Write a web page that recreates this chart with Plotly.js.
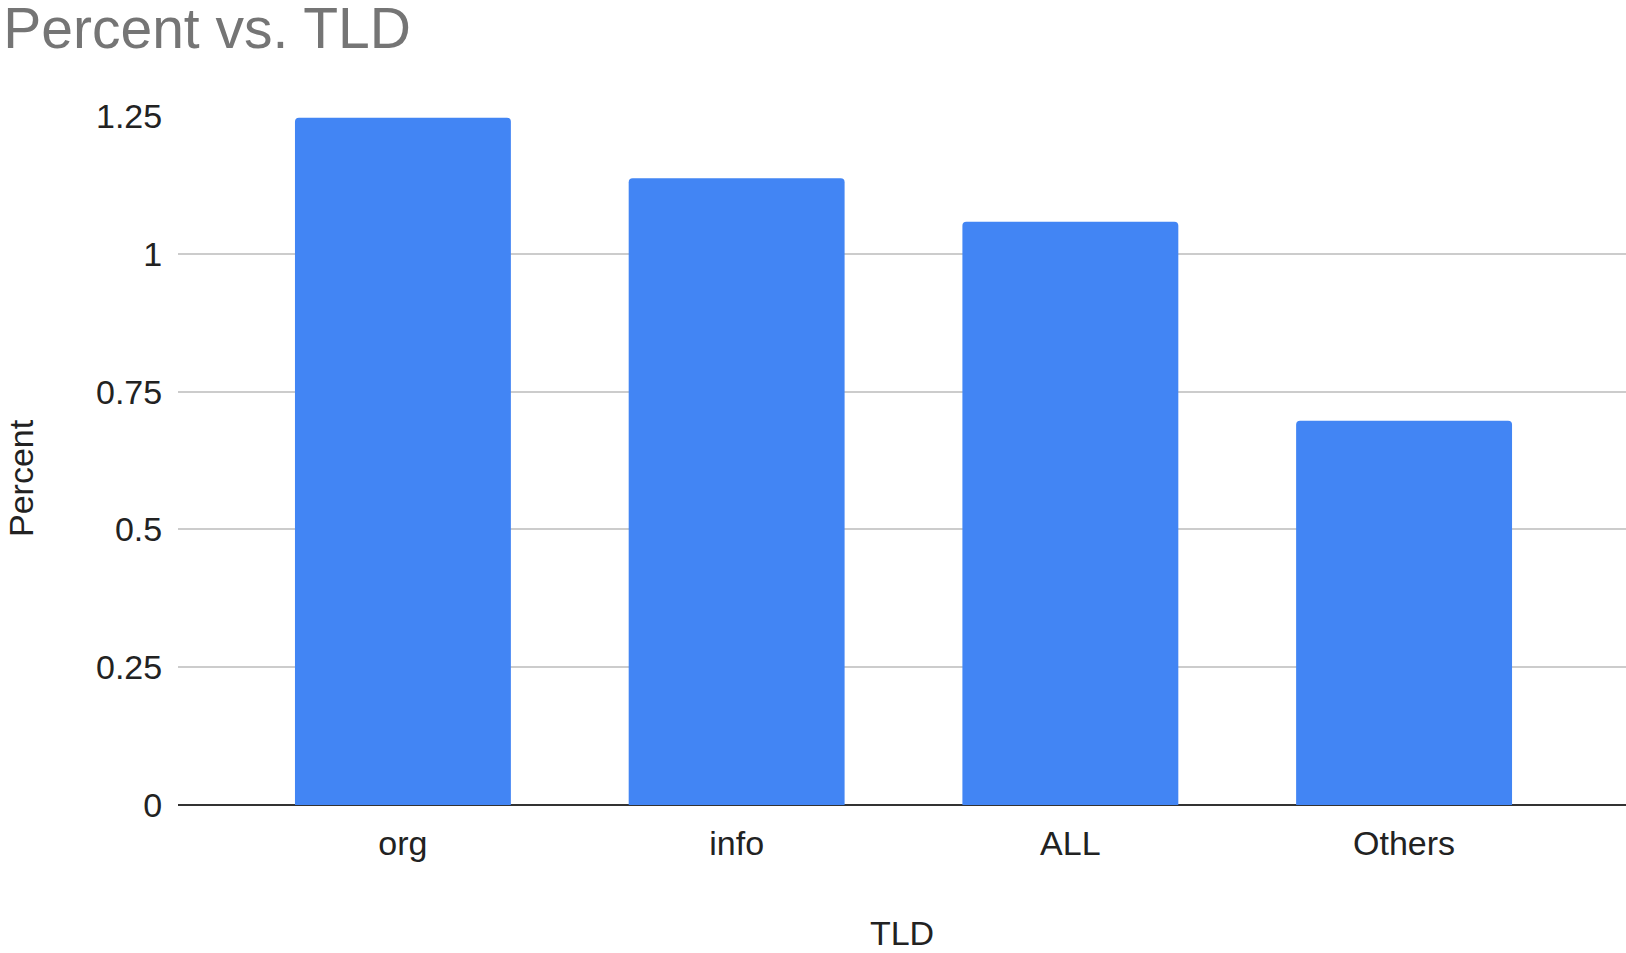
<!DOCTYPE html>
<html>
<head>
<meta charset="utf-8">
<script src="https://cdn.plot.ly/plotly-3.0.1.min.js"></script>
<style>html,body{margin:0;padding:0;background:#fff;}#chart{width:1626px;height:953px;}</style>
</head>
<body>
<div id="chart"></div>
<script>
const categories = ["org", "info", "ALL", "Others"];
const percentValues = [1.247, 1.137, 1.058, 0.697];
const yTickValues = [0, 0.25, 0.5, 0.75, 1, 1.25];
const yTickLabels = ["0", "0.25", "0.5", "0.75", "1", "1.25"];

const trace = {
  type: "bar",
  x: categories,
  y: percentValues,
  marker: {color: "#4285F4"},
  width: 0.647,
  hoverinfo: "x+y"
};

const layout = {
  width: 1626,
  height: 953,
  paper_bgcolor: "#fff",
  plot_bgcolor: "#fff",
  font: {family: "Liberation Sans, Arial, sans-serif", color: "#222", size: 34},
  margin: {l: 178, r: 0, t: 116, b: 148, autoexpand: false},
  barcornerradius: 4,
  title: {
    text: "Percent vs. TLD",
    font: {size: 57, color: "#757575", family: "Liberation Sans, Arial, sans-serif"},
    x: 0.002, xref: "container", xanchor: "left", y: 0.971, yref: "container", yanchor: "middle",
    pad: {l: 0}
  },
  xaxis: {
    type: "category",
    range: [-0.674, 3.665],
    showgrid: false,
    zeroline: false,
    showline: false,
    ticks: "outside",
    ticklen: 8,
    tickcolor: "rgba(0,0,0,0)",
    tickfont: {size: 34, color: "#222"},
    title: {text: "TLD", font: {size: 34, color: "#222"}, standoff: 60},
    automargin: false,
    fixedrange: true
  },
  yaxis: {
    range: [0, 1.25],
    tickvals: yTickValues,
    ticktext: yTickLabels,
    showgrid: true,
    gridcolor: "#cccccc",
    gridwidth: 2,
    zeroline: true,
    zerolinecolor: "#333333",
    zerolinewidth: 2,
    showline: false,
    ticks: "outside",
    ticklen: 8,
    tickcolor: "rgba(0,0,0,0)",
    tickfont: {size: 34, color: "#222"},
    automargin: false,
    fixedrange: true
  },
  annotations: [{
    text: "Percent",
    textangle: -90,
    xref: "paper", yref: "paper",
    x: -0.108, y: 0.474,
    xanchor: "center", yanchor: "middle",
    showarrow: false,
    font: {size: 34, color: "#222"}
  }],
  showlegend: false
};

Plotly.newPlot("chart", [trace], layout, {displayModeBar: false, staticPlot: true});
</script>
</body>
</html>
